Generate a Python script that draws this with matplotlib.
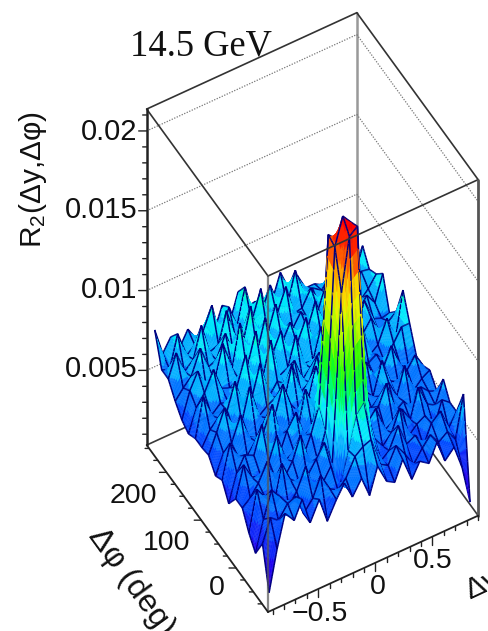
import numpy as np
import matplotlib
matplotlib.use('Agg')
import matplotlib.pyplot as plt
from mpl_toolkits.mplot3d import proj3d
from mpl_toolkits.mplot3d.art3d import Poly3DCollection

plt.rcParams['font.family'] = ['Liberation Sans', 'DejaVu Sans']
plt.rcParams['mathtext.default'] = 'regular'

# bin centres
dy_centres = [-0.90, -0.83, -0.76, -0.68, -0.61, -0.54, -0.46, -0.39, -0.31, -0.24, -0.17, -0.09, -0.02,
              0.05, 0.13, 0.20, 0.27, 0.35, 0.42, 0.50, 0.57, 0.64, 0.72, 0.79, 0.86]
dphi_centres = [-82, -63, -43, -24, -5, 14, 34, 53, 72, 92, 111, 130, 150, 169, 188, 208, 227, 247]

# R2 values x 1000, one row per dphi bin (front to back)
r2_m3 = [
    [1.1, 3.6, 5.6, 4.9, 6.0, 4.3, 5.5, 3.9, 5.0, 5.8, 4.7, 5.6, 4.3, 5.9, 4.7, 4.4, 5.6, 4.1, 5.0, 4.6, 5.7, 4.3, 4.9, 3.4, 1.0],
    [3.6, 5.0, 4.6, 5.4, 5.6, 4.3, 5.0, 6.2, 5.1, 4.8, 5.3, 6.4, 6.8, 7.0, 5.2, 4.9, 5.9, 5.1, 4.2, 5.0, 5.6, 4.9, 5.3, 4.6, 7.2],
    [2.4, 4.3, 5.9, 5.2, 4.4, 5.1, 6.4, 4.7, 4.9, 5.7, 3.9, 6.2, 8.2, 8.8, 6.0, 4.6, 5.0, 6.3, 4.9, 5.2, 4.3, 5.5, 6.0, 4.7, 5.5],
    [3.1, 5.6, 4.9, 4.2, 6.5, 5.3, 4.8, 5.0, 5.8, 6.6, 5.1, 15.5, 18.8, 19.2, 7.4, 5.4, 4.7, 5.3, 6.6, 4.6, 5.1, 5.4, 4.4, 5.9, 5.5],
    [4.1, 4.5, 5.2, 6.3, 5.0, 4.7, 5.6, 7.0, 5.0, 4.9, 6.6, 17.8, 19.5, 18.9, 8.0, 5.9, 6.5, 4.9, 5.2, 5.7, 4.8, 6.6, 5.3, 5.0, 6.4],
    [4.1, 6.0, 5.0, 4.8, 5.5, 6.9, 5.1, 5.4, 4.8, 6.0, 7.6, 18.0, 17.5, 16.5, 7.0, 5.5, 5.2, 5.8, 7.0, 5.0, 5.4, 4.7, 5.8, 5.3, 5.1],
    [3.2, 4.9, 5.8, 5.5, 7.2, 5.2, 4.8, 6.1, 7.0, 5.3, 5.6, 8.6, 9.2, 7.8, 5.4, 6.9, 5.3, 5.1, 5.6, 6.2, 5.1, 6.8, 5.0, 5.5, 5.8],
    [4.1, 6.2, 5.1, 4.9, 5.6, 5.9, 7.4, 5.2, 5.5, 5.0, 7.4, 6.0, 6.8, 5.7, 6.2, 5.3, 7.0, 5.6, 5.0, 7.0, 5.5, 5.2, 5.7, 6.4, 5.5],
    [3.8, 5.0, 5.4, 6.9, 5.3, 5.0, 6.0, 5.6, 7.6, 6.1, 5.4, 5.9, 7.8, 5.6, 5.9, 7.2, 5.5, 6.1, 6.6, 5.3, 5.8, 6.9, 5.4, 5.1, 5.5],
    [4.5, 5.7, 7.0, 5.3, 5.6, 7.6, 5.5, 5.9, 6.2, 5.6, 7.8, 5.8, 6.2, 7.6, 5.5, 6.0, 5.8, 7.4, 5.4, 5.7, 6.0, 5.3, 6.2, 7.0, 7.0],
    [4.4, 5.3, 5.8, 6.0, 7.6, 5.8, 6.2, 8.0, 5.7, 6.4, 6.0, 7.2, 5.8, 6.3, 7.0, 5.7, 6.2, 5.7, 6.1, 7.6, 5.4, 5.8, 7.2, 5.5, 8.5],
    [4.4, 6.8, 5.4, 5.9, 5.7, 6.4, 8.2, 6.0, 6.3, 8.4, 5.9, 6.2, 8.0, 6.0, 5.9, 7.8, 6.3, 5.9, 7.4, 5.8, 6.2, 6.9, 5.6, 6.2, 6.6],
    [4.1, 5.5, 6.2, 7.4, 6.0, 5.8, 6.1, 6.5, 8.6, 6.0, 6.6, 7.9, 6.1, 6.6, 8.0, 6.0, 6.2, 7.6, 6.0, 6.3, 5.7, 7.4, 6.0, 5.8, 5.9],
    [4.4, 6.0, 7.0, 5.5, 6.0, 8.0, 6.2, 8.8, 6.2, 6.5, 8.4, 6.1, 6.4, 7.4, 6.2, 6.5, 8.0, 6.2, 6.4, 6.9, 6.0, 6.1, 6.9, 6.2, 7.8],
    [5.0, 5.6, 6.1, 7.6, 6.2, 6.4, 7.8, 6.3, 6.6, 8.8, 6.4, 6.6, 8.2, 6.3, 6.2, 7.0, 6.2, 6.6, 8.0, 6.1, 6.4, 7.2, 6.0, 6.5, 7.2],
    [5.8, 7.2, 5.8, 6.3, 8.2, 6.3, 6.5, 8.4, 6.4, 6.8, 7.0, 8.8, 6.4, 6.7, 8.2, 6.3, 6.4, 7.4, 6.1, 6.5, 7.6, 6.1, 6.3, 7.0, 6.9],
    [5.8, 5.6, 7.6, 6.0, 6.4, 7.0, 8.4, 6.2, 7.8, 6.4, 8.6, 6.3, 6.6, 8.0, 6.4, 6.2, 8.2, 6.3, 6.6, 6.2, 6.8, 6.3, 7.4, 6.1, 7.8],
    [7.7, 6.0, 6.8, 5.9, 6.8, 6.0, 6.6, 5.7, 7.3, 6.1, 7.7, 6.5, 6.6, 6.2, 6.2, 7.7, 6.5, 7.0, 6.0, 6.0, 5.7, 6.2, 5.9, 6.3, 6.0],
]

# colour stops of the rainbow palette (value x 1000, rgb)
pal_vals = [0.5, 2.5, 4.4, 5.4, 6.4, 7.4, 8.4, 9.4, 11.0, 13.0, 15.0, 16.5, 18.0, 19.5]
pal_r = [80, 30, 0, 0, 0, 0, 0, 0, 30, 170, 255, 255, 255, 255]
pal_g = [0, 0, 70, 110, 170, 230, 255, 255, 255, 255, 240, 160, 50, 0]
pal_b = [200, 240, 255, 255, 255, 255, 210, 110, 0, 0, 0, 0, 0, 0]

xlo, xhi = -0.94, 0.90
ylo, yhi = -92.0, 257.0
zlo, zhi = 0.00032, 0.02137
W, H = 488, 631


class SurfaceMesh(Poly3DCollection):
    # linewidths are not sorted by the parent, so set them after the depth sort
    def do_3d_projection(self):
        depth = super().do_3d_projection()
        alpha = np.asarray(self._facecolors2d)[:, 3]
        self.set_linewidths(np.where(alpha == 0, 1.1, 0.25))
        return depth


fig = plt.figure(figsize=(W / 100, H / 100), dpi=100, facecolor='white')
ax = fig.add_axes([-(H - W) / 2 / W, 0, H / W, 1], projection='3d', computed_zorder=False)
ax.set_proj_type('ortho')
ax.set_xlim(xlo, xhi)
ax.set_ylim(ylo, yhi)
ax.set_zlim(zlo, zhi)
elev, azim = 52.6, -120.0
ax.view_init(elev=elev, azim=azim)
ax.set_axis_off()
aspect = (1, 1, 2.28)
ax.set_box_aspect(aspect)


def to_px(x, y, z):
    X, Y, _ = proj3d.proj_transform(x, y, z, ax.get_proj())
    return ax.transData.transform((X, Y))


# scale and shift the box so the front edge lands where it is in the picture
fig.canvas.draw()
a = to_px(xlo, ylo, zlo)
b = to_px(xlo, ylo, zhi)
ax.set_box_aspect(aspect, zoom=336.0 / np.hypot(*(a - b)))
for n in range(2):
    fig.canvas.draw()
    a = to_px(xlo, ylo, zlo)
    pos = ax.get_position(original=True)
    ax.set_position([pos.x0 + (268 - a[0]) / W, pos.y0 + (H - 612 - a[1]) / H, pos.width, pos.height])
fig.canvas.draw()

# surface: each cell is cut into small quads so the colour bands follow the height
Z = np.array(r2_m3)
K = 8
ifine = np.linspace(0, len(dy_centres) - 1, (len(dy_centres) - 1) * K + 1)
jfine = np.linspace(0, len(dphi_centres) - 1, (len(dphi_centres) - 1) * K + 1)
xf = np.interp(ifine, np.arange(len(dy_centres)), dy_centres)
yf = np.interp(jfine, np.arange(len(dphi_centres)), dphi_centres)
i0 = np.minimum(ifine.astype(int), len(dy_centres) - 2)
j0 = np.minimum(jfine.astype(int), len(dphi_centres) - 2)
fi = (ifine - i0)[None, :]
fj = (jfine - j0)[:, None]
Zf = (Z[np.ix_(j0, i0)] * (1 - fi) * (1 - fj) + Z[np.ix_(j0, i0 + 1)] * fi * (1 - fj)
      + Z[np.ix_(j0 + 1, i0)] * (1 - fi) * fj + Z[np.ix_(j0 + 1, i0 + 1)] * fi * fj)
Xf, Yf = np.meshgrid(xf, yf)
P = np.dstack([Xf, Yf, Zf * 1e-3])

quads = np.stack([P[:-1, :-1], P[:-1, 1:], P[1:, 1:], P[1:, :-1]], axis=2).reshape(-1, 4, 3)
band = np.floor(quads[:, :, 2].mean(axis=1) * 1e3) + 0.5
quad_col = np.column_stack([np.interp(band, pal_vals, pal_r) / 255,
                            np.interp(band, pal_vals, pal_g) / 255,
                            np.interp(band, pal_vals, pal_b) / 255,
                            np.ones(len(band))])

# mesh lines sit in the same collection, pushed a bit toward the camera
er, ar = np.radians(elev), np.radians(azim)
nudge = 4.0 * np.array([np.cos(ar) * np.cos(er) * (xhi - xlo) / 242.5,
                        np.sin(ar) * np.cos(er) * (yhi - ylo) / 242.5,
                        np.sin(er) * (zhi - zlo) / 553.0])
segs = []
for row in P[::K]:
    segs += [np.array([row[n], row[n + 1]]) + nudge for n in range(len(row) - 1)]
for col in P[:, ::K].transpose(1, 0, 2):
    segs += [np.array([col[n], col[n + 1]]) + nudge for n in range(len(col) - 1)]

verts = list(quads) + segs
face = np.vstack([quad_col, np.zeros((len(segs), 4))])
edge = np.vstack([quad_col, np.tile([0.0, 0.0, 0.5, 1.0], (len(segs), 1))])
mesh = SurfaceMesh(verts, zsort='average')
mesh.set_facecolor(face)
mesh.set_edgecolor(edge)
mesh.set_zorder(2)
ax.add_collection3d(mesh)


def line3(p, q, **kw):
    ax.plot([p[0], q[0]], [p[1], q[1]], [p[2], q[2]], solid_capstyle='round', **kw)


# back walls and dotted grid, behind the surface
dark = dict(color='#3a3a3a', lw=1.2, zorder=1)
line3((xlo, yhi, zlo), (xhi, yhi, zlo), **dark)
line3((xhi, ylo, zlo), (xhi, yhi, zlo), **dark)
line3((xhi, yhi, zlo), (xhi, yhi, zhi), color='#999999', lw=1.8, zorder=1)
for zt in [0.005, 0.01, 0.015, 0.02]:
    line3((xlo, yhi, zt), (xhi, yhi, zt), color='#777777', lw=0.9, ls=(0, (1, 1.2)), zorder=1)
    line3((xhi, yhi, zt), (xhi, ylo, zt), color='#777777', lw=0.9, ls=(0, (1, 1.2)), zorder=1)

# top frame and front edges, over the surface
top = dict(color='#333333', lw=1.2, zorder=3)
line3((xlo, yhi, zhi), (xhi, yhi, zhi), **top)
line3((xhi, yhi, zhi), (xhi, ylo, zhi), **top)
line3((xhi, ylo, zhi), (xlo, ylo, zhi), **top)
line3((xlo, ylo, zhi), (xlo, yhi, zhi), **top)
line3((xlo, ylo, zlo), (xlo, ylo, zhi), color='#555555', lw=1.6, alpha=0.7, zorder=3)
line3((xhi, ylo, zlo), (xhi, ylo, zhi), color='#555555', lw=2.0, zorder=3)

# axes with ticks
axis_kw = dict(color='#222222', zorder=4)
line3((xlo, yhi, zlo), (xlo, yhi, zhi), lw=1.8, **axis_kw)
line3((xlo, ylo, zlo), (xlo, yhi, zlo), lw=1.3, **axis_kw)
line3((xlo, ylo, zlo), (xhi, ylo, zlo), lw=1.3, **axis_kw)


def left_off(L):
    # data offset that moves a point L pixels straight left on screen
    return -1.74 * L / 486 * (xhi - xlo), L / 486 * (yhi - ylo)


for k in range(1, 22):
    L = 8 if k % 5 == 0 else 4
    dx, dy = left_off(L)
    line3((xlo, yhi, k * 1e-3), (xlo + dx, yhi + dy, k * 1e-3), lw=1.0, **axis_kw)
for k in range(-3, 11):
    L = 7 if k % 4 == 0 else 4
    dx, dy = left_off(L)
    line3((xlo, k * 25.0, zlo), (xlo + dx, k * 25.0 + dy, zlo), lw=1.0, **axis_kw)
for k in range(-9, 10):
    L = 8 if k % 5 == 0 else 4
    line3((k * 0.1, ylo, zlo), (k * 0.1, ylo, zlo - L / 336 * (zhi - zlo)), lw=1.0, **axis_kw)


def label(x, y, s, **kw):
    kw.setdefault('fontsize', 20.5)
    kw.setdefault('ha', 'center')
    kw.setdefault('va', 'center')
    fig.text(x / W, 1 - y / H, s, color='#111111', **kw)


for s, y in [('0.02', 132), ('0.015', 210), ('0.01', 290), ('0.005', 369)]:
    label(137, y, s, ha='right', fontsize=21)
for s, x, y in [('0', 217, 588), ('100', 167, 543), ('200', 133, 496)]:
    label(x, y, s)
for s, x, y in [('\u22120.5', 320, 614), ('0', 378, 587), ('0.5', 433, 561)]:
    label(x, y, s)

label(130, 55, '14.5 GeV', family=['Liberation Serif'], fontsize=26.3, ha='left', va='baseline')
label(33, 180, 'R$_{2}$(\u0394y,\u0394\u03c6)', rotation=90, fontsize=21.5)
label(131, 582, '\u0394\u03c6 (deg)', rotation=-54, fontsize=23, rotation_mode='anchor')
label(466, 592, '\u0394y', fontsize=21.5, ha='left', rotation=25, rotation_mode='anchor')

fig.savefig('out.png', dpi=100)
